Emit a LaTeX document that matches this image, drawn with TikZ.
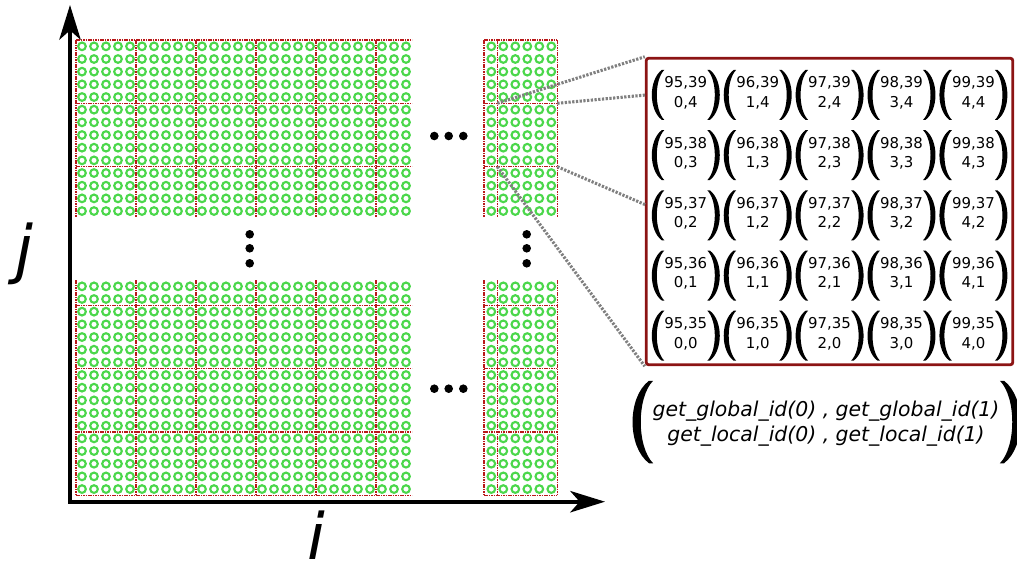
\documentclass[tikz,border=0pt]{standalone}
\usepackage{fontspec}
\setmainfont{DejaVu Sans}
\usetikzlibrary{arrows.meta}
\definecolor{ringGreen}{RGB}{75,215,75}
\definecolor{lineRed}{RGB}{185,25,25}
\definecolor{boxRed}{RGB}{140,20,20}
\tikzstyle{ring}=[draw=ringGreen, line width=1.6pt]
\tikzstyle{gridLine}=[draw=lineRed, line width=1pt, dash pattern=on 1.2pt off 0.6pt]
\tikzstyle{zoomLine}=[draw=black!50, line width=2.3pt, dash pattern=on 1.7pt off 1.1pt]
\tikzstyle{zoomBox}=[draw=boxRed, line width=2.1pt, rounded corners=2pt,
  minimum width=275pt, minimum height=230pt]
\tikzstyle{itemId}=[align=center, inner sep=0pt, font=\fontsize{11.2}{14.5}\selectfont]
\tikzstyle{callId}=[align=center, inner sep=0pt, font=\fontsize{15.3}{18.75}\selectfont\itshape]
\tikzstyle{axisLine}=[draw, line width=3pt, line join=miter, <->,
  >={Stealth[length=26pt,width=16pt,inset=7pt]}]
\tikzstyle{axisName}=[anchor=base, inner sep=0pt, font=\fontsize{48}{48}\selectfont\itshape]
% one big left parenthesis, tips at x=0
\tikzset{lpar/.pic={
  \fill (0,-25) .. controls (-13.3,-15) and (-13.3,15) .. (0,25)
    -- (2.5,25) .. controls (-7.5,15) and (-7.5,-15) .. (2.5,-25) -- cycle;}}
% rings of one region: x0, y0, columns, rows
\newcommand{\itemRegion}[4]{%
  \foreach \cx in {1,...,#3}
    \foreach \ry in {1,...,#4}
      \draw[ring] (#1+12*\cx-6, #2+12.67*\ry-6.33) circle (3.8);}

\begin{document}
\begin{tikzpicture}[x=0.75pt, y=-0.75pt]
  \useasboundingbox (0,0) rectangle (1017,563);

  % Draw the work items
  \itemRegion{76}{40}{28}{14}
  \itemRegion{485.3}{40}{6}{14}
  \itemRegion{76}{280}{28}{17}
  \itemRegion{485.3}{280}{6}{17}

  % Draw the work group borders
  \foreach \x in {76,136,...,376} {
    \draw[gridLine] (\x,40) -- (\x,217.4);
    \draw[gridLine] (\x,280) -- (\x,495.4);}
  \foreach \x in {484,497.3,557.3} {
    \draw[gridLine] (\x,40) -- (\x,217.4);
    \draw[gridLine] (\x,280) -- (\x,495.4);}
  \foreach \y in {40,103.3,166.7,305.3,368.7,432,495.4} {
    \draw[gridLine] (76,\y) -- (412,\y);
    \draw[gridLine] (484,\y) -- (557.3,\y);}

  % Draw the dots
  \foreach \x in {434.3,448.7,463.3} {
    \fill (\x,136) circle (4.3);
    \fill (\x,388.7) circle (4.3);}
  \foreach \y in {234.3,248.3,263.3} {
    \fill (249.7,\y) circle (4.3);
    \fill (526.7,\y) circle (4.3);}

  % Draw the axes
  \coordinate (origin) at (70,501.7);
  \coordinate (jTip) at (70,5);
  \coordinate (iTip) at (605,501.7);
  \draw[axisLine] (jTip) -- (origin) -- (iTip);
  \node[axisName] (jName) at (24,271) {j};
  \node[axisName] (iName) at (316,559) {i};

  % Draw the zoomed work group
  \node[zoomBox] (box) at (829.5,211.5) {};
  \foreach \cx in {0,...,4}
    \foreach \ry in {0,...,4} {
      \pgfmathtruncatemacro\gi{95+\cx}
      \pgfmathtruncatemacro\gj{35+\ry}
      \node[itemId] (w-\cx-\ry) at (685.8+71.9*\cx, 333.7-60.2*\ry) {\gi,\gj\\\cx,\ry};
      \path (w-\cx-\ry.center) ++(-24,2) pic {lpar};
      \path (w-\cx-\ry.center) ++(24,2) pic[xscale=-1] {lpar};
    }

  % Draw the zoom lines
  \coordinate (blkNW) at (497.3,103.3);
  \coordinate (blkNE) at (557.3,103.3);
  \coordinate (blkSE) at (557.3,166.7);
  \coordinate (blkSW) at (497.3,166.7);
  \coordinate (boxA) at (646,95);
  \coordinate (boxB) at (646,205);
  \draw[zoomLine] (blkNW) -- (box.north west);
  \draw[zoomLine] (blkNE) -- (boxA);
  \draw[zoomLine] (blkSE) -- (boxB);
  \draw[zoomLine] (blkSW) -- (box.south west);

  % Draw the legend
  \node[callId] (call) at (826,424)
    {get\_global\_id(0) , get\_global\_id(1)\\get\_local\_id(0) , get\_local\_id(1)};
  \path (call.center) ++(-177,-2) pic[scale=1.65] {lpar};
  \path (call.center) ++(178,-2) pic[scale=1.65, xscale=-1] {lpar};
\end{tikzpicture}
\end{document}
